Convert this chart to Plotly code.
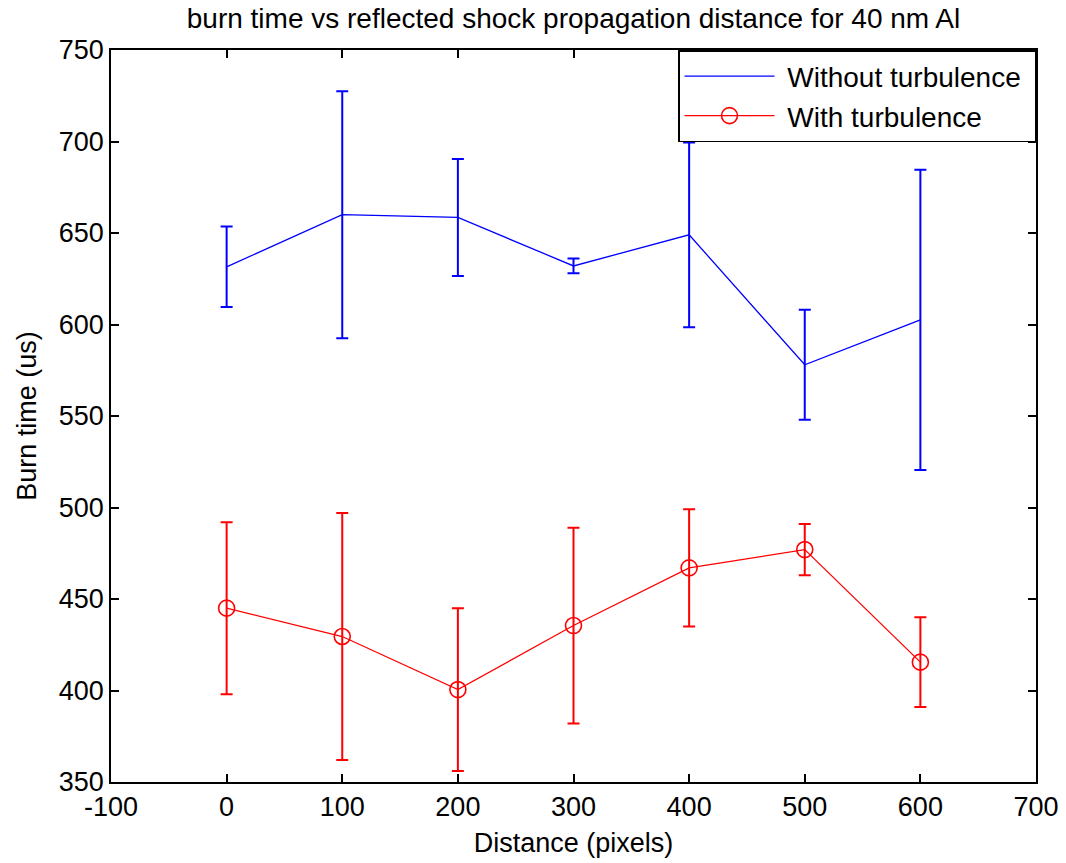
import plotly.graph_objects as go

distance = [0, 100, 200, 300, 400, 500, 600]
without_turb = [631.5, 660, 658.5, 632, 649, 578, 602.5]
without_err = [22, 67.5, 32, 4, 50.5, 30, 82]
with_turb = [445, 429.5, 400.5, 435.5, 467, 477, 415.5]
with_err = [47, 67.5, 44.5, 53.5, 32, 14, 24.5]

x_ticks = [-100, 0, 100, 200, 300, 400, 500, 600, 700]
x_tick_labels = ["-100", "0", "100", "200", "300", "400", "500", "600", "700"]
y_ticks = [350, 400, 450, 500, 550, 600, 650, 700, 750]

FONT = "Liberation Sans, Arial, sans-serif"
FS = 27
NB = "\u00a0"

fig = go.Figure()
fig.add_trace(go.Scatter(
    x=distance, y=without_turb, mode="lines", name=NB + "Without turbulence" + NB,
    line=dict(color="#0000FF", width=1.3),
    error_y=dict(type="data", array=without_err, visible=True,
                 color="#0000FF", thickness=2, width=6),
))
fig.add_trace(go.Scatter(
    x=distance, y=with_turb, mode="lines+markers", name=NB + "With turbulence",
    line=dict(color="#FF0000", width=1.3),
    marker=dict(symbol="circle-open", size=16, color="#FF0000",
                line=dict(width=1.6, color="#FF0000")),
    error_y=dict(type="data", array=with_err, visible=True,
                 color="#FF0000", thickness=2, width=6),
))

axis_common = dict(
    showline=True, linecolor="black", linewidth=1.5, mirror="allticks",
    ticks="inside", ticklen=8, tickwidth=1.5, tickcolor="black",
    showgrid=False, zeroline=False, automargin=False,
    tickfont=dict(family=FONT, size=FS, color="black"),
)

fig.update_layout(
    width=1066, height=863,
    paper_bgcolor="white", plot_bgcolor="white",
    margin=dict(l=111, r=30, t=50, b=81),
    font=dict(family=FONT, size=FS, color="black"),
    title=dict(text="burn time vs reflected shock propagation distance for 40 nm Al",
               x=0.5, xref="paper", y=1 - 18 / 863, yref="container",
               yanchor="middle", xanchor="center",
               font=dict(family=FONT, size=28, color="black")),
    xaxis=dict(range=[-100, 700], tickvals=x_ticks, ticktext=x_tick_labels,
               title=dict(text="Distance (pixels)", standoff=12,
                          font=dict(family=FONT, size=FS, color="black")),
               **axis_common),
    yaxis=dict(range=[350, 750], tickvals=y_ticks,
               title=dict(text="Burn time (us)", standoff=14,
                          font=dict(family=FONT, size=FS, color="black")),
               **axis_common),
    legend=dict(x=1, y=1, xanchor="right", yanchor="top",
                bgcolor="white", bordercolor="black", borderwidth=1.5,
                font=dict(family=FONT, size=28, color="black"),
                itemwidth=90, tracegroupgap=0),
    showlegend=True,
)

fig.write_html(
    "out.html",
    config={"displayModeBar": False},
    post_script="document.body.style.margin='0';document.body.style.overflow='hidden';",
)
